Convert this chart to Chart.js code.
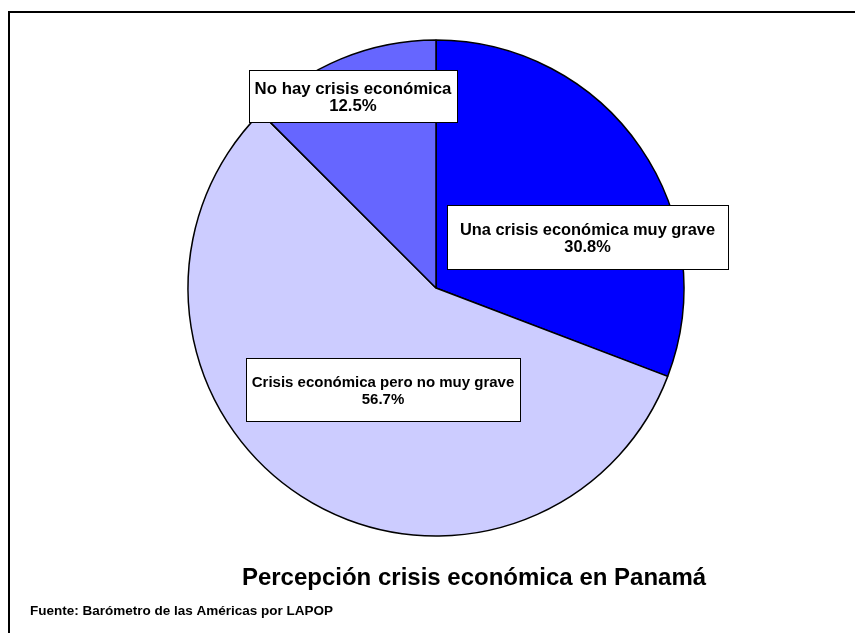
<!DOCTYPE html>
<html lang="es">
<head>
    <meta charset="UTF-8">
    <title>Percepción crisis económica en Panamá</title>
    <script src="https://cdn.jsdelivr.net/npm/chart.js"></script>
    <style>
        html, body { margin: 0; padding: 0; background: #fff; }
        canvas { display: block; }
    </style>
</head>
<body>
    <canvas id="pieChart" width="855" height="633"></canvas>

    <script>
        // Chart data
        const categories = ['Una crisis económica muy grave', 'Crisis económica pero no muy grave', 'No hay crisis económica'];
        const percentages = [30.8, 56.7, 12.5];
        const sliceColors = ['#0000FF', '#CCCCFF', '#6666FF'];

        const chartTitle = 'Percepción crisis económica en Panamá';
        const sourceNote = 'Fuente: Barómetro de las Américas por LAPOP';

        // label boxes, offsets from pie centre (px), and their font size
        const labelBoxes = [
            { x: 11, y: -83, w: 281, h: 64, size: 16.4 },
            { x: -190, y: 70, w: 274, h: 63, size: 15 },
            { x: -187, y: -218, w: 208, h: 52, size: 16.8 }
        ];

        const FONT = '"Liberation Sans", Arial, sans-serif';

        const annotations = {
            id: 'annotations',
            afterDraw(chart) {
                const ctx = chart.ctx;
                const arcs = chart.getDatasetMeta(0).data;
                ctx.save();

                // frame (only top and left visible in the crop)
                ctx.strokeStyle = '#000';
                ctx.lineWidth = 2;
                ctx.beginPath();
                ctx.moveTo(9, 633);
                ctx.lineTo(9, 12);
                ctx.lineTo(855, 12);
                ctx.stroke();

                // slice labels
                ctx.textAlign = 'center';
                ctx.textBaseline = 'middle';
                arcs.forEach((arc, i) => {
                    const b = labelBoxes[i];
                    const bx = arc.x + b.x, by = arc.y + b.y;
                    ctx.fillStyle = '#fff';
                    ctx.fillRect(bx, by, b.w, b.h);
                    ctx.strokeStyle = '#000';
                    ctx.lineWidth = 1;
                    ctx.strokeRect(bx + 0.5, by + 0.5, b.w, b.h);
                    ctx.fillStyle = '#000';
                    ctx.font = 'bold ' + b.size + 'px ' + FONT;
                    const cx = bx + b.w / 2, cy = by + b.h / 2 + 1;
                    ctx.fillText(categories[i], cx, cy - 8);
                    ctx.fillText(percentages[i].toFixed(1) + '%', cx, cy + 9);
                });

                // title and source
                ctx.font = 'bold 24px ' + FONT;
                ctx.fillText(chartTitle, 474, 578);
                ctx.font = 'bold 13.5px ' + FONT;
                ctx.textAlign = 'left';
                ctx.fillText(sourceNote, 30, 611);

                ctx.restore();
            }
        };

        new Chart(document.getElementById('pieChart'), {
            type: 'pie',
            data: {
                labels: categories,
                datasets: [{
                    data: percentages,
                    backgroundColor: sliceColors,
                    borderColor: '#000',
                    borderWidth: 1.5,
                    hoverOffset: 0,
                    radius: 248
                }]
            },
            options: {
                responsive: false,
                animation: false,
                events: [],
                layout: { padding: { left: 188, right: 171, top: 40, bottom: 97 } },
                plugins: {
                    legend: { display: false },
                    tooltip: { enabled: false },
                    title: { display: false }
                }
            },
            plugins: [annotations]
        });
    </script>
</body>
</html>
